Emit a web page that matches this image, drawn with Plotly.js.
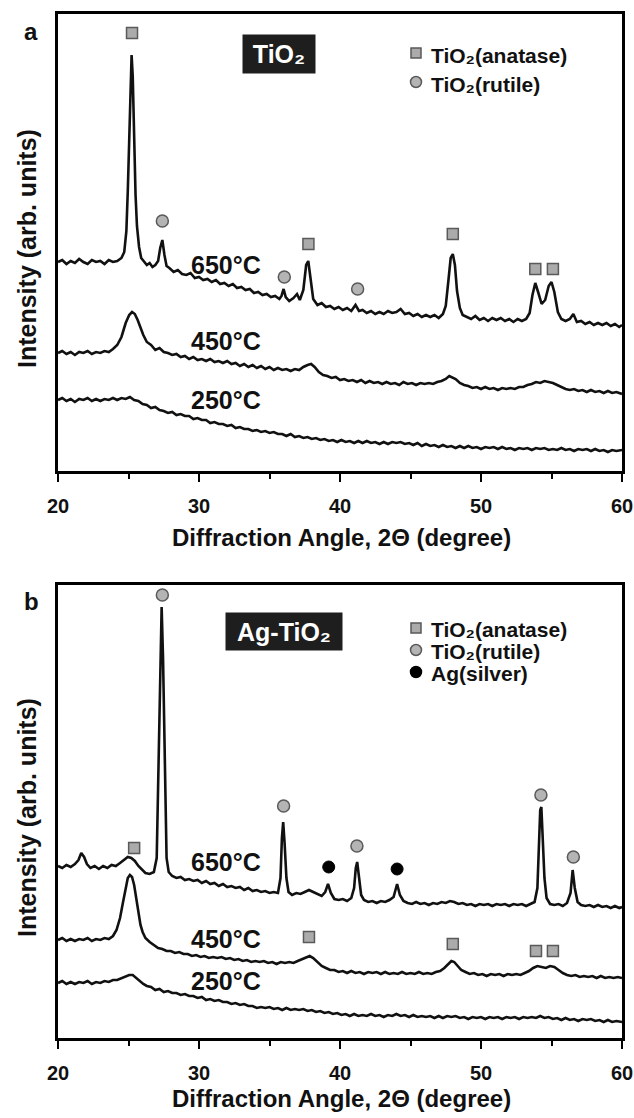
<!DOCTYPE html>
<html><head><meta charset="utf-8">
<script src="https://cdn.plot.ly/plotly-3.0.1.min.js"></script>
<style>html,body{margin:0;padding:0;background:#fff}#chart{width:634px;height:1118px}</style>
</head><body><div id="chart"></div>
<script>
// ---------- Panel a : TiO2  ([2θ, intensity]) ----------
const a650 = [[20,209],[20.3,211],[20.6,207],[20.9,210],[21.2,208],[21.5,212],[21.8,209],[22.1,207],[22.4,211],[22.7,209],[23.0,210],[23.3,207],[23.6,211],[23.9,209],[24.2,210],[24.5,213],
[24.7,219],[24.85,240],[24.95,280],[25.05,341],[25.15,400],[25.22,416],[25.3,395],[25.4,330],[25.5,276],[25.6,245],[25.75,224],[25.9,213],
[26.1,209],[26.3,206],[26.5,208],[26.7,204],[26.9,206],[27.1,210],[27.25,223],[27.4,231],[27.55,216],[27.7,205],[27.9,203],
[28.2,199],[28.5,201],[28.8,197],[29.1,196],[29.4,198],[29.7,193],[30.0,194],[30.3,191],[30.6,192],[30.9,189],[31.2,191],[31.5,187],[31.8,188],[32.1,185],[32.4,187],[32.7,183],[33.0,184],[33.3,181],[33.6,182],[33.9,178],[34.2,179],[34.5,176],[34.8,177],[35.1,174],[35.4,175],[35.7,172],
[35.85,175],[36.0,182],[36.15,174],[36.4,170],[36.7,173],[36.95,177],[37.15,171],[37.4,181],[37.6,206],[37.75,210],[37.9,192],[38.1,172],[38.4,166],[38.7,168],[39.0,164],[39.3,165],[39.6,162],[39.9,164],[40.2,161],[40.5,163],[40.8,160],[41.1,166],[41.35,160],[41.6,161],[41.9,158],[42.2,160],[42.5,157],[42.8,159],[43.1,157],[43.4,160],[43.7,158],[44.0,159],[44.3,162],[44.6,157],[44.9,158],[45.2,155],[45.5,157],[45.8,154],[46.1,156],[46.4,154],[46.7,156],[47.0,153],[47.3,157],
[47.5,165],[47.7,192],[47.85,213],[48.0,217],[48.15,206],[48.3,180],[48.5,163],[48.7,156],[49.0,154],[49.3,152],[49.6,155],[49.9,151],[50.2,153],[50.5,150],[50.8,153],[51.1,151],[51.4,153],[51.7,150],[52.0,152],[52.3,149],[52.6,152],[52.9,150],[53.2,152],
[53.45,158],[53.65,176],[53.85,188],[54.05,179],[54.3,167],[54.55,171],[54.8,185],[55.0,189],[55.2,179],[55.45,159],[55.7,152],[56.0,150],[56.3,152],[56.55,157],[56.8,149],[57.1,150],[57.4,147],[57.7,149],[58.0,146],[58.3,148],[58.6,146],[58.9,148],[59.2,145],[59.5,147],[59.8,144],[60.0,146]];

const a450 = [[20,118],[20.3,120],[20.6,117],[20.9,119],[21.2,116],[21.5,119],[21.8,118],[22.1,120],[22.4,117],[22.7,119],[23.0,118],[23.3,120],[23.6,119],[23.9,122],[24.2,126],[24.5,134],[24.8,148],[25.05,156],[25.25,159],[25.45,157],[25.65,151],[25.85,143],[26.05,136],[26.3,129],[26.6,126],[26.9,121],[27.2,123],[27.5,119],[27.8,118],[28.1,116],[28.4,117],[28.7,114],[29.0,115],[29.3,112],[29.6,114],[29.9,111],[30.2,112],[30.5,110],[30.8,112],[31.1,109],[31.4,110],[31.7,108],[32.0,110],[32.3,107],[32.6,108],[32.9,105],[33.2,107],[33.5,104],[33.8,106],[34.1,103],[34.4,105],[34.7,102],[35.0,104],[35.3,101],[35.6,103],[35.9,101],[36.2,102],[36.5,100],[36.8,102],[37.1,101],[37.4,104],[37.7,106],[37.95,107],[38.2,104],[38.5,99],[38.8,96],[39.1,95],[39.4,93],[39.7,94],[40.0,91],[40.3,92],[40.6,90],[40.9,91],[41.2,89],[41.5,91],[41.8,88],[42.1,90],[42.4,88],[42.7,89],[43.0,87],[43.3,89],[43.6,87],[43.9,88],[44.2,86],[44.5,89],[44.8,87],[45.1,88],[45.4,86],[45.7,88],[46.0,87],[46.3,88],[46.6,87],[46.9,89],[47.2,90],[47.5,92],[47.75,95],[47.95,94],[48.2,92],[48.5,88],[48.8,86],[49.1,85],[49.4,83],[49.7,84],[50.0,82],[50.3,84],[50.6,82],[50.9,83],[51.2,81],[51.5,83],[51.8,82],[52.1,83],[52.4,82],[52.7,84],[53.0,84],[53.3,86],[53.6,87],[53.9,89],[54.2,88],[54.5,90],[54.8,89],[55.1,88],[55.4,86],[55.7,84],[56.0,82],[56.3,81],[56.6,82],[56.9,80],[57.2,81],[57.5,79],[57.8,81],[58.1,79],[58.4,80],[58.7,78],[59.0,80],[59.3,78],[59.6,79],[60.0,77]];

const a250 = [[20,71],[20.3,73],[20.6,70],[20.9,72],[21.2,69],[21.5,72],[21.8,71],[22.1,73],[22.4,70],[22.7,72],[23.0,70],[23.3,72],[23.6,71],[23.9,73],[24.2,71],[24.5,73],[24.8,72],[25.1,74],[25.4,71],[25.7,70],[26.0,67],[26.3,66],[26.6,63],[26.9,64],[27.2,61],[27.5,60],[27.8,58],[28.1,59],[28.4,56],[28.7,57],[29.0,55],[29.3,55],[29.6,52],[29.9,53],[30.2,51],[30.5,51],[30.8,48],[31.1,49],[31.4,47],[31.7,47],[32.0,45],[32.3,46],[32.6,43],[32.9,44],[33.2,42],[33.5,42],[33.8,40],[34.1,41],[34.4,39],[34.7,40],[35.0,38],[35.3,39],[35.6,37],[35.9,37],[36.2,35],[36.5,37],[36.8,34],[37.1,35],[37.4,33],[37.7,34],[38.0,32],[38.3,33],[38.6,31],[38.9,32],[39.2,30],[39.5,31],[39.8,29],[40.1,31],[40.4,29],[40.7,30],[41.0,28],[41.3,30],[41.6,28],[41.9,30],[42.2,28],[42.5,29],[42.8,27],[43.1,29],[43.4,27],[43.7,29],[44.0,28],[44.3,29],[44.6,27],[44.9,28],[45.2,26],[45.5,28],[45.8,25],[46.1,27],[46.4,25],[46.7,26],[47.0,24],[47.3,26],[47.6,24],[47.9,25],[48.2,23],[48.5,25],[48.8,23],[49.1,25],[49.4,23],[49.7,24],[50.0,22],[50.3,24],[50.6,23],[50.9,24],[51.2,22],[51.5,24],[51.8,22],[52.1,23],[52.4,21],[52.7,23],[53.0,22],[53.3,23],[53.6,21],[53.9,23],[54.2,22],[54.5,23],[54.8,21],[55.1,22],[55.4,21],[55.7,23],[56.0,21],[56.3,22],[56.6,20],[56.9,22],[57.2,21],[57.5,22],[57.8,20],[58.1,22],[58.4,20],[58.7,21],[59.0,19],[59.3,21],[59.6,20],[60.0,21]];

const a_anatase_x = [25.25,37.76,48.0,53.85,55.1];
const a_anatase_y = [438,227,237,202,202];
const a_rutile_x = [27.4,36.05,41.25];
const a_rutile_y = [250,194,182];

// ---------- Panel b : Ag-TiO2 ----------
const b650 = [[20,172],[20.3,170],[20.6,173],[20.9,171],[21.2,174],[21.45,178],[21.65,185],[21.85,181],[22.05,174],[22.3,170],[22.6,172],[22.9,169],[23.2,172],[23.5,170],[23.8,173],[24.1,172],[24.4,175],[24.7,178],[24.95,181],[25.2,180],[25.45,177],[25.7,172],[25.95,168],[26.2,165],[26.5,164],[26.8,166],
[27.0,180],[27.12,260],[27.25,380],[27.35,431],[27.45,380],[27.58,260],[27.7,180],[27.85,166],[28.1,162],[28.4,160],[28.7,161],[29.0,158],[29.3,159],[29.6,157],[29.9,158],[30.2,155],[30.5,157],[30.8,154],[31.1,155],[31.4,152],[31.7,154],[32.0,151],[32.3,152],[32.6,150],[32.9,151],[33.2,148],[33.5,150],[33.8,147],[34.1,148],[34.4,146],[34.7,147],[35.0,145],[35.3,146],[35.6,145],
[35.78,160],[35.88,200],[35.97,216],[36.07,195],[36.2,160],[36.35,146],[36.6,143],[36.9,145],[37.2,144],[37.5,146],[37.8,148],[38.1,146],[38.4,144],[38.7,142],[38.95,146],[39.15,154],[39.35,145],[39.6,139],[39.9,138],[40.2,139],[40.5,137],[40.8,140],[41.0,150],[41.12,170],[41.22,176],[41.35,160],[41.5,143],[41.7,138],[42.0,136],[42.3,137],[42.6,135],[42.9,137],[43.2,136],[43.5,138],[43.8,141],[44.05,154],[44.25,143],[44.5,137],[44.8,135],[45.1,134],[45.4,136],[45.7,134],[46.0,135],[46.3,133],[46.6,135],[46.9,134],[47.2,136],[47.5,135],[47.8,137],[48.1,136],[48.4,134],[48.7,135],[49.0,133],[49.3,134],[49.6,132],[49.9,134],[50.2,133],[50.5,134],[50.8,132],[51.1,134],[51.4,133],[51.7,134],[52.0,132],[52.3,134],[52.6,133],[52.9,134],[53.2,132],[53.5,134],[53.8,136],
[54.0,150],[54.1,190],[54.2,228],[54.28,231],[54.38,200],[54.5,160],[54.65,140],[54.9,134],[55.2,133],[55.5,134],[55.8,132],[56.1,135],[56.35,145],[56.5,168],[56.65,150],[56.85,136],[57.1,133],[57.4,132],[57.7,133],[58.0,131],[58.3,133],[58.6,131],[58.9,132],[59.2,130],[59.5,132],[59.8,130],[60.0,131]];

const b450 = [[20,98],[20.3,100],[20.6,97],[20.9,99],[21.2,97],[21.5,99],[21.8,98],[22.1,100],[22.4,97],[22.7,99],[23.0,98],[23.3,100],[23.6,99],[23.9,102],[24.15,108],[24.4,120],[24.6,135],[24.8,150],[24.95,160],[25.1,163],[25.25,161],[25.4,153],[25.55,140],[25.7,125],[25.85,113],[26.0,106],[26.2,100],[26.5,96],[26.8,93],[27.1,90],[27.4,89],[27.7,87],[28.0,87],[28.3,85],[28.6,86],[28.9,84],[29.2,84],[29.5,82],[29.8,83],[30.1,81],[30.4,82],[30.7,80],[31.0,81],[31.3,80],[31.6,81],[31.9,79],[32.2,80],[32.5,78],[32.8,79],[33.1,77],[33.4,78],[33.7,76],[34.0,77],[34.3,76],[34.6,77],[34.9,75],[35.2,76],[35.5,74],[35.8,76],[36.1,75],[36.4,76],[36.7,75],[37.0,77],[37.3,79],[37.6,81],[37.85,82],[38.1,80],[38.4,76],[38.7,72],[39.0,70],[39.3,68],[39.6,68],[39.9,66],[40.2,67],[40.5,65],[40.8,67],[41.1,65],[41.4,66],[41.7,64],[42.0,66],[42.3,65],[42.6,66],[42.9,64],[43.2,66],[43.5,64],[43.8,65],[44.1,64],[44.4,66],[44.7,64],[45.0,65],[45.3,64],[45.6,66],[45.9,64],[46.2,65],[46.5,64],[46.8,66],[47.1,67],[47.4,70],[47.65,74],[47.9,77],[48.1,76],[48.35,72],[48.6,68],[48.9,66],[49.2,64],[49.5,65],[49.8,63],[50.1,64],[50.4,62],[50.7,64],[51.0,63],[51.3,64],[51.6,62],[51.9,64],[52.2,63],[52.5,64],[52.8,63],[53.1,65],[53.4,67],[53.7,70],[54.0,72],[54.3,71],[54.6,70],[54.9,72],[55.2,71],[55.5,68],[55.8,65],[56.1,63],[56.4,62],[56.7,63],[57.0,61],[57.3,62],[57.6,61],[57.9,62],[58.2,60],[58.5,62],[58.8,60],[59.1,61],[59.4,60],[59.7,61],[60.0,60]];

const b250 = [[20,55],[20.3,57],[20.6,54],[20.9,56],[21.2,54],[21.5,56],[21.8,55],[22.1,57],[22.4,54],[22.7,56],[23.0,55],[23.3,57],[23.6,56],[23.9,58],[24.2,58],[24.5,60],[24.8,62],[25.05,63],[25.3,63],[25.55,60],[25.8,57],[26.05,54],[26.3,52],[26.6,51],[26.9,48],[27.2,49],[27.5,46],[27.8,47],[28.1,45],[28.4,45],[28.7,43],[29.0,44],[29.3,42],[29.6,42],[29.9,40],[30.2,41],[30.5,38],[30.8,39],[31.1,37],[31.4,38],[31.7,36],[32.0,36],[32.3,34],[32.6,35],[32.9,33],[33.2,34],[33.5,32],[33.8,32],[34.1,30],[34.4,31],[34.7,30],[35.0,31],[35.3,29],[35.6,30],[35.9,28],[36.2,30],[36.5,28],[36.8,29],[37.1,28],[37.4,29],[37.7,27],[38.0,28],[38.3,26],[38.6,27],[38.9,25],[39.2,26],[39.5,24],[39.8,25],[40.1,23],[40.4,24],[40.7,22],[41.0,24],[41.3,22],[41.6,23],[41.9,22],[42.2,24],[42.5,22],[42.8,23],[43.1,21],[43.4,23],[43.7,22],[44.0,24],[44.3,22],[44.6,23],[44.9,21],[45.2,23],[45.5,21],[45.8,22],[46.1,21],[46.4,22],[46.7,20],[47.0,22],[47.3,20],[47.6,22],[47.9,21],[48.2,22],[48.5,20],[48.8,21],[49.1,19],[49.4,21],[49.7,20],[50.0,21],[50.3,19],[50.6,21],[50.9,20],[51.2,21],[51.5,19],[51.8,21],[52.1,20],[52.4,21],[52.7,19],[53.0,21],[53.3,20],[53.6,21],[53.9,20],[54.2,22],[54.5,20],[54.8,21],[55.1,19],[55.4,20],[55.7,18],[56.0,20],[56.3,18],[56.6,19],[56.9,17],[57.2,19],[57.5,18],[57.8,19],[58.1,17],[58.4,18],[58.7,16],[59.0,18],[59.3,16],[59.6,17],[60.0,16]];

const b_anatase_x = [25.4,37.8,48.0,53.9,55.1];
const b_anatase_y = [190,101,94,87,87];
const b_rutile_x = [27.4,36.0,41.2,54.25,56.55];
const b_rutile_y = [443,232,192,243,181];
const b_silver_x = [39.2,44.05];
const b_silver_y = [171,169];

const tempLabels = ['650°C','450°C','250°C'];
const legendLabels = ['TiO₂(anatase)','TiO₂(rutile)','Ag(silver)'];
const boxLabels = ['TiO₂','Ag-TiO₂'];
const xTickVals = [20,30,40,50,60];
const xTitle = 'Diffraction Angle, 2Θ (degree)';
const yTitle = 'Intensity (arb. units)';

// ---------- helpers ----------
const W = 634, H = 1118;
const px = v => v / W;
const py = v => 1 - v / H;
const FONT = 'Liberation Sans, Arial, Helvetica, sans-serif';
const lineStyle = {color:'#111', width:2.6};
const sqMarker = {symbol:'square', size:11, color:'#ababab', line:{color:'#5a5a5a', width:1.5}};
const ciMarker = {symbol:'circle', size:12, color:'#b4b4b4', line:{color:'#5a5a5a', width:1.5}};
const agMarker = {symbol:'circle', size:12, color:'#000', line:{color:'#000', width:1}};

function curve(pts, xa, ya){ return {x:pts.map(p=>p[0]), y:pts.map(p=>p[1]), xaxis:xa, yaxis:ya, mode:'lines', line:lineStyle, hoverinfo:'skip', showlegend:false}; }
function marks(x, y, xa, ya, m){ return {x, y, xaxis:xa, yaxis:ya, mode:'markers', marker:m, hoverinfo:'skip', showlegend:false, cliponaxis:false}; }

const data = [
  curve(a650, 'x', 'y'), curve(a450, 'x', 'y'), curve(a250, 'x', 'y'),
  marks(a_anatase_x, a_anatase_y, 'x', 'y', sqMarker),
  marks(a_rutile_x, a_rutile_y, 'x', 'y', ciMarker),
  curve(b650, 'x2', 'y2'), curve(b450, 'x2', 'y2'), curve(b250, 'x2', 'y2'),
  marks(b_anatase_x, b_anatase_y, 'x2', 'y2', sqMarker),
  marks(b_rutile_x, b_rutile_y, 'x2', 'y2', ciMarker),
  marks(b_silver_x, b_silver_y, 'x2', 'y2', agMarker)
];

function xAxis(anchor){
  return {domain:[px(58), px(622)], range:[20,60], anchor, showline:true, linewidth:3, linecolor:'#000', mirror:true,
    ticks:'outside', ticklen:8, tickwidth:2, tickcolor:'#000', tickvals:xTickVals, ticklabelstandoff:7,
    minor:{tickvals:[25,35,45,55], ticks:'outside', ticklen:5, tickwidth:2, tickcolor:'#000'},
    tickfont:{family:FONT, size:20, color:'#111', weight:'bold'}, showgrid:false, zeroline:false, fixedrange:true};
}
function yAxis(anchor, top, bottom, max){
  return {domain:[py(bottom), py(top)], range:[0,max], anchor, showline:true, linewidth:3, linecolor:'#000', mirror:true,
    ticks:'', showticklabels:false, showgrid:false, zeroline:false, fixedrange:true};
}

const txt = (text, x, y, size, opts={}) => Object.assign({text, x:px(x), y:py(y), xref:'paper', yref:'paper',
  showarrow:false, xanchor:'center', yanchor:'middle', font:{family:FONT, size, color:'#111', weight:'bold'}}, opts);
const boxFont = {family:FONT, size:25, color:'#fff', weight:'bold'};

const annotations = [
  txt('a', 31, 31, 24),
  txt('b', 31, 601, 24),
  txt(boxLabels[0], 279, 54, 25, {bgcolor:'#1e1e1e', font:boxFont, width:72, height:38, borderpad:0}),
  txt(boxLabels[1], 284, 631, 25, {bgcolor:'#1e1e1e', font:boxFont, width:116, height:37, borderpad:0}),
  txt(tempLabels[0], 226, 265, 25),
  txt(tempLabels[1], 226, 341, 25),
  txt(tempLabels[2], 226, 400, 25),
  txt(tempLabels[0], 226, 862, 25),
  txt(tempLabels[1], 226, 939, 25),
  txt(tempLabels[2], 226, 981, 25),
  txt(legendLabels[0], 429, 55, 21, {xanchor:'left'}),
  txt(legendLabels[1], 429, 84, 21, {xanchor:'left'}),
  txt(legendLabels[0], 429, 629, 21, {xanchor:'left'}),
  txt(legendLabels[1], 429, 651, 21, {xanchor:'left'}),
  txt(legendLabels[2], 429, 673, 21, {xanchor:'left'}),
  txt(xTitle, 341, 538, 24),
  txt(xTitle, 341, 1098, 24),
  txt(yTitle, 27, 249, 25, {textangle:-90}),
  txt(yTitle, 27, 818, 25, {textangle:-90})
];

function sq(cx, cy){ return {type:'rect', xref:'paper', yref:'paper', x0:px(cx-5), x1:px(cx+5), y0:py(cy+5), y1:py(cy-5), fillcolor:'#ababab', line:{color:'#5a5a5a', width:1.5}}; }
function ci(cx, cy, fill, lc){ return {type:'circle', xref:'paper', yref:'paper', x0:px(cx-5.5), x1:px(cx+5.5), y0:py(cy+5.5), y1:py(cy-5.5), fillcolor:fill, line:{color:lc, width:1.5}}; }

const shapes = [
  sq(416, 53), ci(416, 82, '#b4b4b4', '#5a5a5a'),
  sq(416, 628), ci(416, 650, '#b4b4b4', '#5a5a5a'), ci(416, 672, '#000', '#000')
];

const layout = {
  width:W, height:H, margin:{l:0, r:0, t:0, b:0}, paper_bgcolor:'#fff', plot_bgcolor:'#fff', showlegend:false,
  xaxis:xAxis('y'), yaxis:yAxis('x', 14, 471, 457),
  xaxis2:xAxis('y2'), yaxis2:yAxis('x2', 585, 1038, 453),
  annotations, shapes
};

Plotly.newPlot('chart', data, layout, {displayModeBar:false, staticPlot:true});
</script>
</body></html>
